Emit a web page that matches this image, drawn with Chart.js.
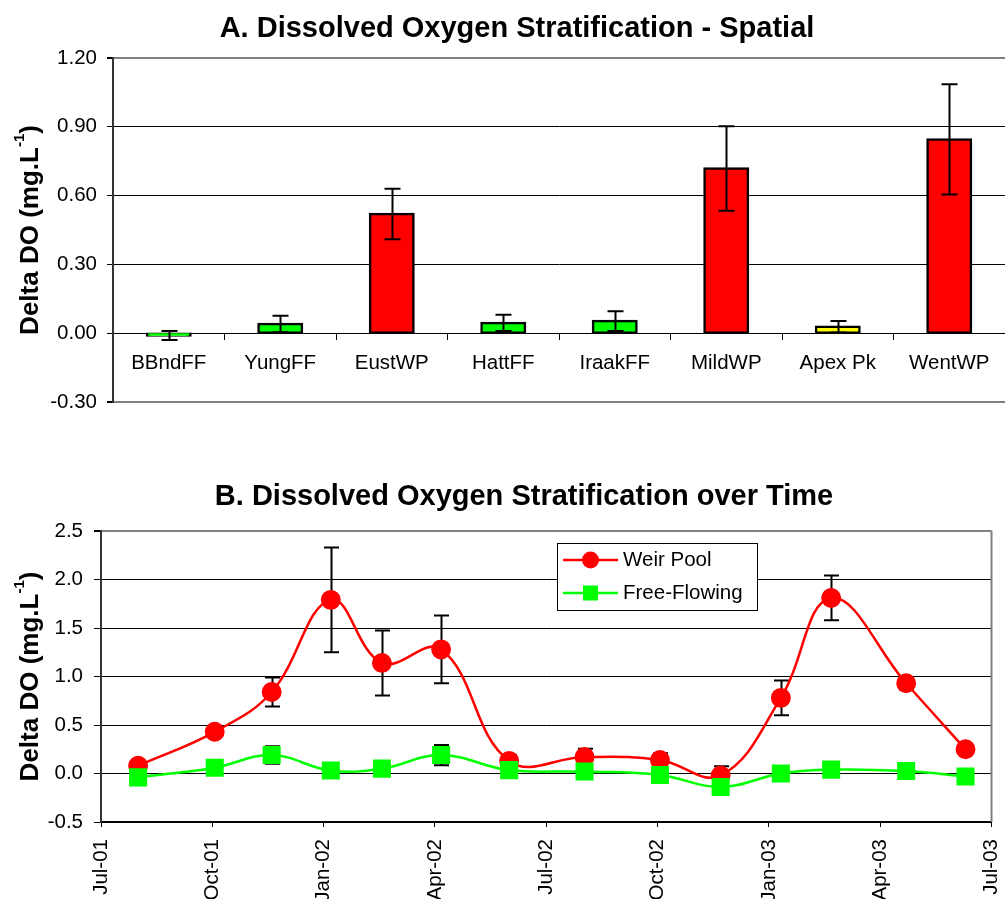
<!DOCTYPE html>
<html>
<head>
<meta charset="utf-8">
<title>Dissolved Oxygen Stratification</title>
<script src="https://cdn.jsdelivr.net/npm/chart.js@4.4.1/dist/chart.umd.min.js"></script>
<style>
  html, body { margin: 0; padding: 0; background: #fff; }
  #wrap { position: relative; width: 1005px; height: 899px; overflow: hidden; }
  canvas { position: absolute; left: 0; }
  #spatial { top: 0; }
  #temporal { top: 450px; }
</style>
</head>
<body>
<div id="wrap">
  <canvas id="spatial" width="1005" height="450"></canvas>
  <canvas id="temporal" width="1005" height="449"></canvas>
</div>
<script>
// A. spatial survey: mean delta DO at each site, +/- error
const sites = ['BBndFF', 'YungFF', 'EustWP', 'HattFF', 'IraakFF', 'MildWP', 'Apex Pk', 'WentWP'];
const siteDeltaDO = [-0.01, 0.04, 0.52, 0.045, 0.053, 0.718, 0.028, 0.845];
const siteError = [0.02, 0.036, 0.11, 0.035, 0.043, 0.184, 0.025, 0.24];

// B. monthly sampling runs, weir pools vs free-flowing reaches
const sampleDates = ['2001-08-01', '2001-10-03', '2001-11-19', '2002-01-07', '2002-02-17', '2002-04-06', '2002-06-01',
                     '2002-08-02', '2002-10-03', '2002-11-22', '2003-01-11', '2003-02-20', '2003-04-22', '2003-06-10'];
const weirPool = [0.08, 0.43, 0.84, 1.79, 1.14, 1.28, 0.13, 0.17, 0.14, -0.02, 0.78, 1.81, 0.93, 0.25];
const weirPoolError = [0, 0, 0.15, 0.54, 0.335, 0.35, 0.06, 0.085, 0.07, 0.095, 0.18, 0.23, 0.065, 0];
const freeFlowing = [-0.04, 0.06, 0.19, 0.03, 0.05, 0.19, 0.035, 0.02, -0.015, -0.14, 0.0, 0.04, 0.025, -0.03];
const freeFlowingError = [0, 0, 0.09, 0, 0, 0.105, 0, 0, 0, 0, 0, 0, 0, 0];
const quarterLabels = ['Jul-01', 'Oct-01', 'Jan-02', 'Apr-02', 'Jul-02', 'Oct-02', 'Jan-03', 'Apr-03', 'Jul-03'];

const FONT = "'Liberation Sans', Arial, Helvetica, sans-serif";
Chart.defaults.font.family = FONT;
Chart.defaults.color = '#000';

// weir pools red, free-flowing green, anything else yellow
function siteColour(name) {
  if (/WP$/.test(name)) return '#ff0000';
  if (/FF$/.test(name)) return '#00ff00';
  return '#ffff00';
}

// months since 1 July 2001
function monthsFromStart(s) {
  const [y, m, d] = s.split('-').map(Number);
  const days = new Date(y, m, 0).getDate();
  return (y - 2001) * 12 + (m - 7) + (d - 1) / days;
}

function drawErrorBars(chart, opts) {
  const ctx = chart.ctx;
  ctx.save();
  ctx.strokeStyle = '#000';
  ctx.lineWidth = opts.width;
  chart.data.datasets.forEach((ds, i) => {
    if (!ds.errors) return;
    const meta = chart.getDatasetMeta(i);
    const ys = chart.scales[meta.yAxisID];
    meta.data.forEach((el, j) => {
      const e = ds.errors[j];
      if (!e) return;
      const raw = ds.data[j];
      const v = typeof raw === 'object' ? raw.y : raw;
      const top = ys.getPixelForValue(v + e);
      const bot = ys.getPixelForValue(v - e);
      const x = Math.round(el.x) + 0.5, c = opts.cap / 2;
      ctx.beginPath();
      ctx.moveTo(x, top); ctx.lineTo(x, bot);
      ctx.moveTo(x - c, top); ctx.lineTo(x + c, top);
      ctx.moveTo(x - c, bot); ctx.lineTo(x + c, bot);
      ctx.stroke();
    });
  });
  ctx.restore();
}

const errorBars = {
  id: 'errorBars',
  beforeDatasetsDraw(chart, args, opts) { if (!opts.over) drawErrorBars(chart, opts); },
  afterDatasetsDraw(chart, args, opts) { if (opts.over) drawErrorBars(chart, opts); }
};

// chart title plus rotated y title with a superscript exponent
const captions = {
  id: 'captions',
  afterDraw(chart, args, o) {
    const ctx = chart.ctx;
    ctx.save();
    ctx.fillStyle = '#000';
    ctx.textBaseline = 'alphabetic';
    ctx.textAlign = 'center';
    ctx.font = `bold 29px ${FONT}`;
    ctx.fillText(o.title, o.titleX, o.titleY);

    const main = `bold 26px ${FONT}`, sup = `bold 15px ${FONT}`;
    const [a, b, c] = o.yTitle;
    ctx.font = main;
    const wa = ctx.measureText(a).width, wc = ctx.measureText(c).width;
    ctx.font = sup;
    const wb = ctx.measureText(b).width;
    const mid = (chart.chartArea.top + chart.chartArea.bottom) / 2;
    ctx.translate(o.yTitleX, mid);
    ctx.rotate(-Math.PI / 2);
    ctx.textAlign = 'left';
    let x = -(wa + wb + wc) / 2;
    ctx.font = main; ctx.fillText(a, x, 0); x += wa;
    ctx.font = sup; ctx.fillText(b, x, -14); x += wb;
    ctx.font = main; ctx.fillText(c, x, 0);
    ctx.restore();
  }
};

// grey right-hand frame line of the plot area
const plotFrame = {
  id: 'plotFrame',
  beforeDatasetsDraw(chart) {
    const { ctx, chartArea: a } = chart;
    ctx.save();
    ctx.strokeStyle = '#808080';
    ctx.lineWidth = 2;
    ctx.beginPath();
    ctx.moveTo(a.right, a.top);
    ctx.lineTo(a.right, a.bottom);
    ctx.stroke();
    ctx.restore();
  }
};

// boxed legend sitting inside the plot area
const insetLegend = {
  id: 'insetLegend',
  afterDraw(chart, args, o) {
    const { ctx, chartArea } = chart;
    const x0 = Math.round(chartArea.left + o.x), y0 = Math.round(chartArea.top + o.y);
    ctx.save();
    ctx.fillStyle = '#fff';
    ctx.fillRect(x0, y0, o.w, o.h);
    ctx.strokeStyle = '#000';
    ctx.lineWidth = 1;
    ctx.strokeRect(x0 + 0.5, y0 + 0.5, o.w, o.h);
    ctx.font = `20.5px ${FONT}`;
    ctx.textBaseline = 'middle';
    ctx.textAlign = 'left';
    chart.data.datasets.forEach((ds, i) => {
      const cy = y0 + o.rowTop + i * o.rowGap;
      const sx = x0 + 6, mx = sx + 27.5;
      ctx.strokeStyle = ds.borderColor;
      ctx.lineWidth = ds.borderWidth;
      ctx.beginPath();
      ctx.moveTo(sx, cy); ctx.lineTo(sx + 55, cy);
      ctx.stroke();
      ctx.fillStyle = ds.backgroundColor;
      if (ds.pointStyle === 'rect') {
        ctx.fillRect(mx - 7.5, cy - 7.5, 15, 15);
      } else {
        ctx.beginPath();
        ctx.arc(mx, cy, 8.5, 0, Math.PI * 2);
        ctx.fill();
      }
      ctx.fillStyle = '#000';
      ctx.fillText(ds.label, sx + 60, cy);
    });
    ctx.restore();
  }
};

const isTop = c => Math.abs(c.tick.value - c.scale.max) < 1e-9;
const isEdge = c => isTop(c) || Math.abs(c.tick.value - c.scale.min) < 1e-9;

new Chart(document.getElementById('spatial'), {
  type: 'bar',
  data: {
    labels: sites,
    datasets: [{
      data: siteDeltaDO,
      errors: siteError,
      backgroundColor: sites.map(siteColour),
      borderColor: '#000',
      borderWidth: 2.5,
      borderSkipped: false,
      inflateAmount: 1.25,   // centre the outline on the bar edge
      barPercentage: 0.39,
      categoryPercentage: 1
    }]
  },
  options: {
    responsive: false,
    animation: false,
    devicePixelRatio: 1,
    layout: { padding: { top: 58, bottom: 48, left: 0, right: 0 } },
    plugins: {
      legend: { display: false },
      tooltip: { enabled: false },
      errorBars: { over: true, cap: 16, width: 2 },
      captions: {
        title: 'A. Dissolved Oxygen Stratification - Spatial',
        titleX: 517, titleY: 37,
        yTitle: ['Delta DO (mg.L', '-1', ')'], yTitleX: 38
      }
    },
    scales: {
      x: {
        position: { y: 0 },
        grid: { drawOnChartArea: false, drawTicks: true, tickLength: 6, color: '#000' },
        border: { color: '#000', width: 1 },
        ticks: { font: { size: 20.5 }, padding: 12 }
      },
      y: {
        min: -0.3,
        max: 1.2,
        ticks: { stepSize: 0.3, font: { size: 20.5 }, padding: 10, callback: v => v.toFixed(2) },
        grid: {
          color: c => isEdge(c) ? '#808080' : '#000',
          lineWidth: c => isEdge(c) ? 2 : 1,
          tickColor: '#000',
          tickLength: 6
        },
        border: { color: '#333', width: 2 },
        afterFit(s) { s.width = 113; }
      }
    }
  },
  plugins: [errorBars, captions]
});

const toPoints = vals => sampleDates.map((d, i) => ({ x: monthsFromStart(d), y: vals[i] }));

new Chart(document.getElementById('temporal'), {
  type: 'line',
  data: {
    datasets: [{
      label: 'Weir Pool',
      data: toPoints(weirPool),
      errors: weirPoolError,
      borderColor: '#ff0000',
      backgroundColor: '#ff0000',
      borderWidth: 2.5,
      pointStyle: 'circle',
      pointRadius: 8.7,
      tension: 0.4,
      order: 1
    }, {
      label: 'Free-Flowing',
      data: toPoints(freeFlowing),
      errors: freeFlowingError,
      borderColor: '#00ff00',
      backgroundColor: '#00ff00',
      borderWidth: 2.5,
      pointStyle: 'rect',
      pointRadius: 11,
      tension: 0.4,
      order: 0
    }]
  },
  options: {
    responsive: false,
    animation: false,
    devicePixelRatio: 1,
    layout: { padding: { top: 81, right: 9, left: 0, bottom: 0 } },
    plugins: {
      legend: { display: false },
      tooltip: { enabled: false },
      errorBars: { over: false, cap: 15, width: 2 },
      captions: {
        title: 'B. Dissolved Oxygen Stratification over Time',
        titleX: 524, titleY: 55,
        yTitle: ['Delta DO (mg.L', '-1', ')'], yTitleX: 38
      },
      insetLegend: { x: 456, y: 12, w: 200, h: 67, rowTop: 17, rowGap: 33 }
    },
    scales: {
      x: {
        type: 'linear',
        min: 0,
        max: 24,
        ticks: {
          stepSize: 3,
          autoSkip: false,
          minRotation: 90,
          maxRotation: 90,
          padding: 12,
          font: { size: 20.5 },
          callback: v => quarterLabels[v / 3]
        },
        grid: { drawOnChartArea: false, tickLength: 5, color: '#000' },
        border: { color: '#000', width: 2 },
        afterFit(s) { s.height = 77; s.paddingLeft = 0; s.paddingRight = 0; }
      },
      y: {
        min: -0.5,
        max: 2.5,
        ticks: { stepSize: 0.5, font: { size: 20.5 }, padding: 11, callback: v => v.toFixed(1) },
        grid: {
          color: c => isTop(c) ? '#808080' : '#000',
          lineWidth: c => isTop(c) ? 2 : 1,
          tickColor: '#000',
          tickLength: 7
        },
        border: { color: '#333', width: 2 },
        afterFit(s) { s.width = 101; }
      }
    }
  },
  plugins: [errorBars, captions, plotFrame, insetLegend]
});
</script>
</body>
</html>
